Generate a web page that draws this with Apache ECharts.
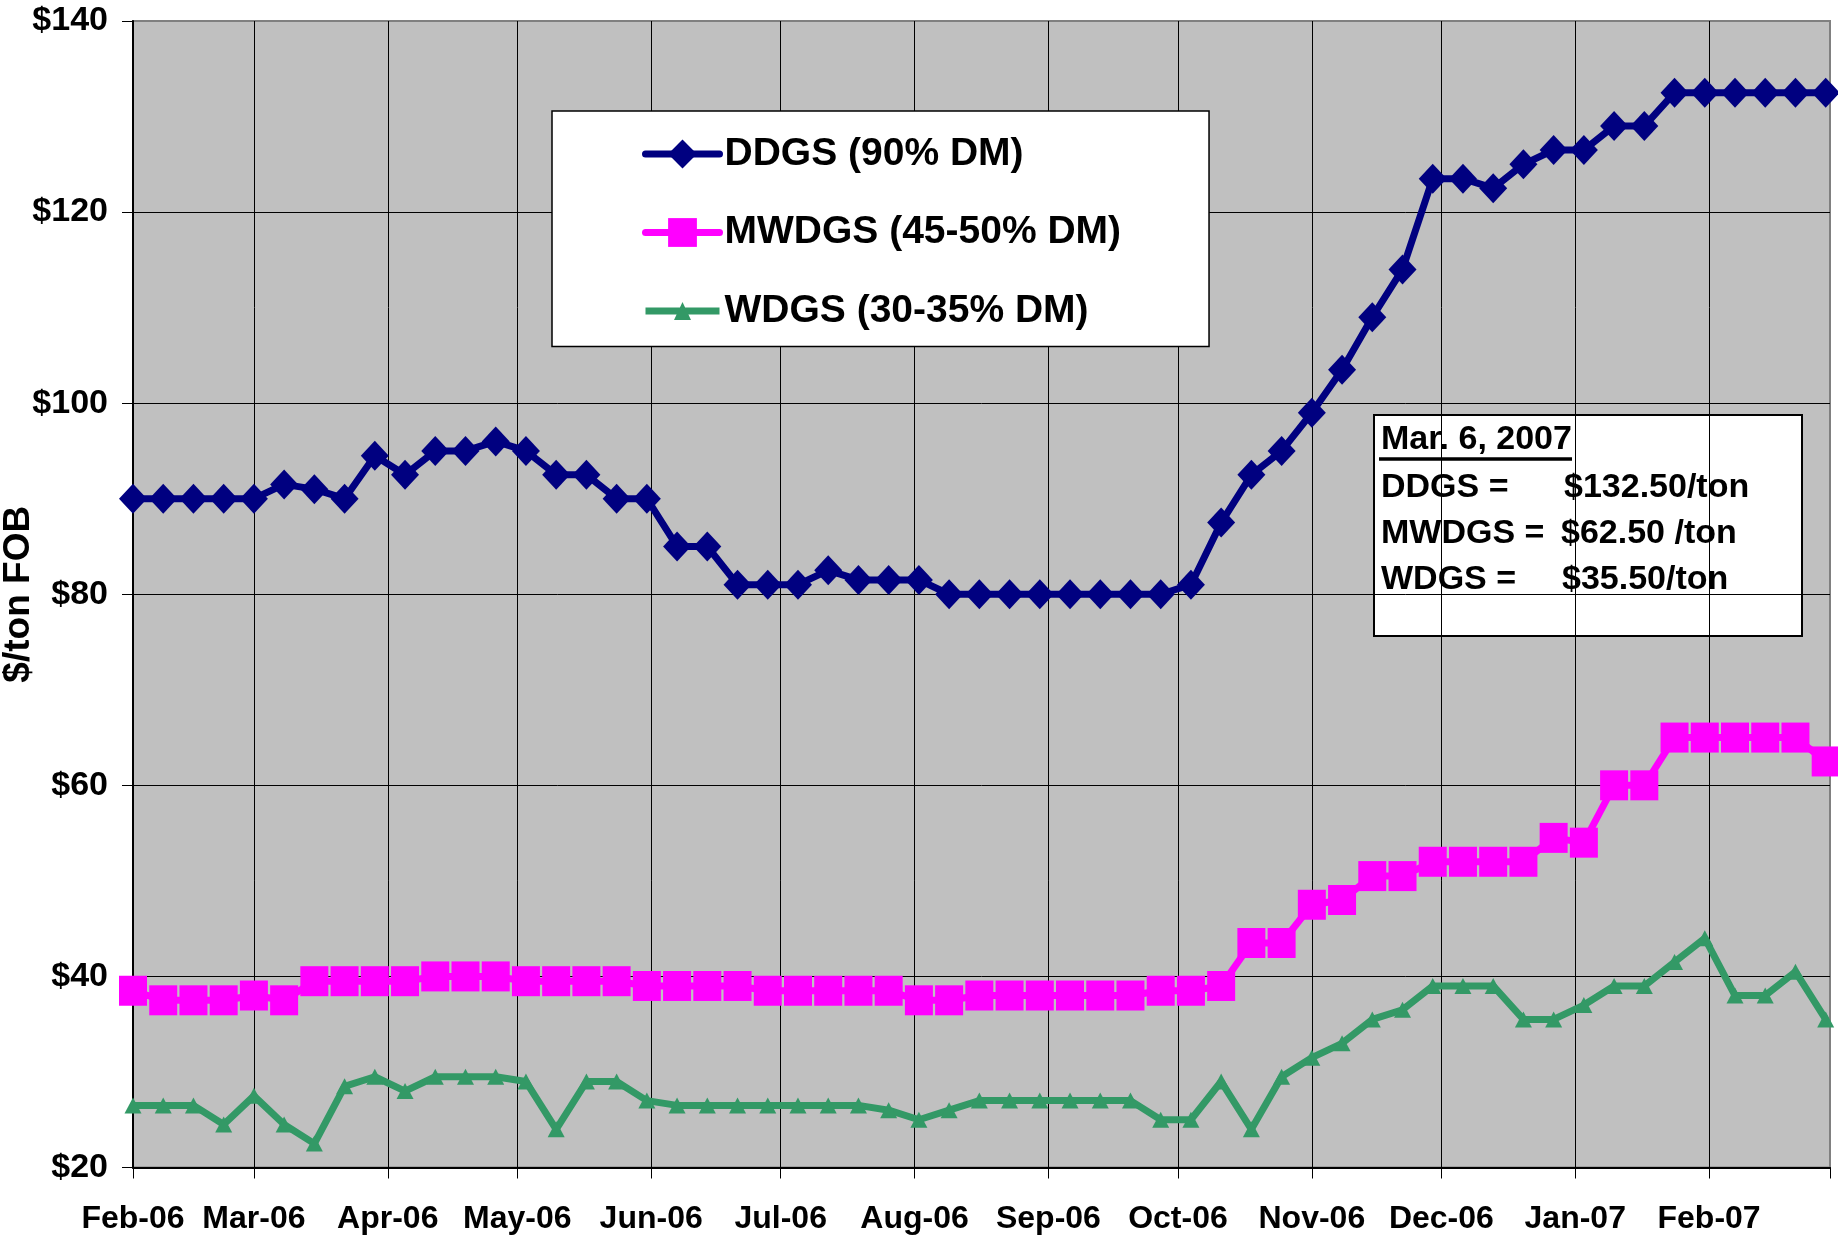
<!DOCTYPE html>
<html>
<head>
<meta charset="utf-8">
<script src="https://cdn.jsdelivr.net/npm/echarts@6/dist/echarts.min.js"></script>
<style>
html,body{margin:0;padding:0;background:#fff;}
#chart{width:1838px;height:1238px;}
</style>
</head>
<body>
<div id="chart"></div>
<script>
// ---- data ----
const weeks = [
  '2006-02-01','2006-02-08','2006-02-15','2006-02-22',
  '2006-03-01','2006-03-08','2006-03-15','2006-03-22','2006-03-29',
  '2006-04-05','2006-04-12','2006-04-19','2006-04-26',
  '2006-05-03','2006-05-10','2006-05-17','2006-05-24','2006-05-31',
  '2006-06-07','2006-06-14','2006-06-21','2006-06-28',
  '2006-07-05','2006-07-12','2006-07-19','2006-07-26',
  '2006-08-02','2006-08-09','2006-08-16','2006-08-23','2006-08-30',
  '2006-09-06','2006-09-13','2006-09-20','2006-09-27',
  '2006-10-04','2006-10-11','2006-10-18','2006-10-25',
  '2006-11-01','2006-11-08','2006-11-15','2006-11-22','2006-11-29',
  '2006-12-06','2006-12-13','2006-12-20','2006-12-27',
  '2007-01-03','2007-01-10','2007-01-17','2007-01-24','2007-01-31',
  '2007-02-07','2007-02-14','2007-02-21','2007-02-28'
];
const ddgs = [
  90, 90, 90, 90, 90, 91.5, 91, 90, 94.5, 92.5, 95, 95, 96, 95, 92.5, 92.5, 90, 90,
  85, 85, 81, 81, 81, 82.5, 81.5, 81.5, 81.5, 80, 80, 80, 80, 80, 80, 80, 80,
  81, 87.5, 92.5, 95, 99, 103.5, 109, 114, 123.5, 123.5, 122.5, 125, 126.5, 126.5,
  129, 129, 132.5, 132.5, 132.5, 132.5, 132.5, 132.5
];
const mwdgs = [
  38.5, 37.5, 37.5, 37.5, 38, 37.5, 39.5, 39.5, 39.5, 39.5, 40, 40, 40, 39.5, 39.5, 39.5, 39.5,
  39, 39, 39, 39, 38.5, 38.5, 38.5, 38.5, 38.5, 37.5, 37.5, 38, 38, 38, 38, 38, 38,
  38.5, 38.5, 39, 43.5, 43.5, 47.5, 48, 50.5, 50.5, 52, 52, 52, 52, 54.5, 54,
  60, 60, 65, 65, 65, 65, 65, 62.5
];
const wdgs = [
  26.5, 26.5, 26.5, 24.5, 27.5, 24.5, 22.5, 28.5, 29.5, 28, 29.5, 29.5, 29.5, 29, 24, 29, 29,
  27, 26.5, 26.5, 26.5, 26.5, 26.5, 26.5, 26.5, 26, 25, 26, 27, 27, 27, 27, 27, 27,
  25, 25, 29, 24, 29.5, 31.5, 33, 35.5, 36.5, 39, 39, 39, 35.5, 35.5, 37,
  39, 39, 41.5, 44, 38, 38, 40.5, 35.5
];
const monthTicks = [
  '2006-02-01','2006-03-01','2006-04-01','2006-05-01','2006-06-01','2006-07-01','2006-08-01',
  '2006-09-01','2006-10-01','2006-11-01','2006-12-01','2007-01-01','2007-02-01','2007-03-01'
];
const monthLabels = [
  'Feb-06','Mar-06','Apr-06','May-06','Jun-06','Jul-06','Aug-06',
  'Sep-06','Oct-06','Nov-06','Dec-06','Jan-07','Feb-07'
];
const seriesNames = ['DDGS (90% DM)', 'MWDGS (45-50% DM)', 'WDGS (30-35% DM)'];
const yAxisName = '$/ton FOB';
const noteTitle = 'Mar. 6, 2007';
const noteLeft = ['DDGS =', 'MWDGS =', 'WDGS ='];
const noteRight = ['$132.50/ton', '$62.50 /ton', '$35.50/ton'];

// ---- helpers ----
function toTime(s){ const p = s.split('-').map(Number); return Date.UTC(p[0], p[1]-1, p[2]); }
const pairs = arr => weeks.map((d, i) => [toTime(d), arr[i]]);
const tickVals = monthTicks.map(toTime);
const labelVals = tickVals.slice(0, monthLabels.length);
function monthLabel(v){
  let best = 0, bd = Infinity;
  labelVals.forEach((t, i) => { const d = Math.abs(t - v); if (d < bd) { bd = d; best = i; } });
  return monthLabels[best];
}
const FONT = "'Liberation Sans', Arial, Helvetica, sans-serif";
const triIcon = 'path://M0,0L0.1,0L0,0.1Z M74,36L73.9,36L74,35.9Z M0,14.5L74,14.5L74,21.5L0,21.5Z M37,9L45.5,27L28.5,27Z';

const chart = echarts.init(document.getElementById('chart'), null, {renderer: 'canvas'});
chart.setOption({
  animation: false,
  backgroundColor: '#ffffff',
  grid: {
    left: 133, right: 8, top: 21, bottom: 70.5,
    outerBoundsMode: 'none', containLabel: false,
    show: true, backgroundColor: '#C0C0C0', borderColor: '#808080', borderWidth: 2
  },
  xAxis: {
    type: 'value',
    min: tickVals[0], max: tickVals[tickVals.length - 1],
    axisLine: {show: true, lineStyle: {color: '#000', width: 2}},
    axisTick: {show: true, customValues: tickVals, length: 11, inside: false, lineStyle: {color: '#000', width: 1}},
    axisLabel: {
      show: true, customValues: labelVals, formatter: monthLabel, margin: 36,
      fontSize: 32, fontWeight: 'bold', color: '#000', fontFamily: FONT, hideOverlap: false
    },
    splitLine: {show: true, showMinLine: false, showMaxLine: false, lineStyle: {color: '#000', width: 1}}
  },
  yAxis: {
    type: 'value', min: 20, max: 140, interval: 20,
    name: yAxisName, nameLocation: 'middle', nameRotate: 90, nameGap: 96,
    nameMoveOverlap: false,
    nameTextStyle: {fontSize: 37, fontWeight: 'bold', color: '#000', fontFamily: FONT},
    axisLine: {show: true, lineStyle: {color: '#000', width: 2}},
    axisTick: {show: true, length: 11, inside: false, lineStyle: {color: '#000', width: 1}},
    axisLabel: {
      formatter: v => '$' + v, margin: 25,
      fontSize: 34, fontWeight: 'bold', color: '#000', fontFamily: FONT
    },
    splitLine: {show: true, showMinLine: false, showMaxLine: false, lineStyle: {color: '#000', width: 1}}
  },
  legend: {
    left: 552, top: 111, orient: 'vertical',
    backgroundColor: '#fff', borderColor: '#000', borderWidth: 1.5,
    padding: [23.5, 88, 16, 90],
    itemWidth: 74, itemHeight: 36, itemGap: 39.5,
    textStyle: {fontSize: 39, fontWeight: 'bold', color: '#000', fontFamily: FONT},
    lineStyle: {width: 7, cap: 'round'},
    selectedMode: false,
    data: [
      {name: seriesNames[0]},
      {name: seriesNames[1]},
      {name: seriesNames[2], icon: triIcon}
    ]
  },
  series: [
    {
      name: seriesNames[0], type: 'line', data: pairs(ddgs), z: 5,
      symbol: 'diamond', symbolSize: [28, 30], showSymbol: true, showAllSymbol: true,
      lineStyle: {color: '#000080', width: 7}, itemStyle: {color: '#000080'},
      emphasis: {disabled: true}, silent: true
    },
    {
      name: seriesNames[1], type: 'line', data: pairs(mwdgs), z: 4,
      symbol: 'rect', symbolSize: [28, 30], showSymbol: true, showAllSymbol: true,
      lineStyle: {color: '#FF00FF', width: 7}, itemStyle: {color: '#FF00FF'},
      emphasis: {disabled: true}, silent: true
    },
    {
      name: seriesNames[2], type: 'line', data: pairs(wdgs), z: 3,
      symbol: 'triangle', symbolSize: [17, 16], showSymbol: true, showAllSymbol: true,
      lineStyle: {color: '#339966', width: 7}, itemStyle: {color: '#339966'},
      emphasis: {disabled: true}, silent: true
    }
  ],
  graphic: {
    elements: [{
      type: 'group', left: 1373, top: 414, z: 100,
      children: [
        {type: 'rect', shape: {x: 0, y: 0, width: 428, height: 221}, style: {fill: '#fff', stroke: '#000', lineWidth: 2}},
        {type: 'text', x: 7, y: 25, style: {text: noteTitle, font: 'bold 34px ' + FONT, fill: '#000', verticalAlign: 'middle'}},
        {type: 'line', shape: {x1: 5, y1: 44, x2: 198, y2: 44}, style: {stroke: '#000', lineWidth: 3.5}},
        {type: 'text', x: 7, y: 73, style: {text: noteLeft[0], font: 'bold 34px ' + FONT, fill: '#000', verticalAlign: 'middle'}},
        {type: 'text', x: 190, y: 73, style: {text: noteRight[0], font: 'bold 34px ' + FONT, fill: '#000', verticalAlign: 'middle'}},
        {type: 'text', x: 7, y: 119, style: {text: noteLeft[1], font: 'bold 34px ' + FONT, fill: '#000', verticalAlign: 'middle'}},
        {type: 'text', x: 187, y: 119, style: {text: noteRight[1], font: 'bold 34px ' + FONT, fill: '#000', verticalAlign: 'middle'}},
        {type: 'text', x: 7, y: 165, style: {text: noteLeft[2], font: 'bold 34px ' + FONT, fill: '#000', verticalAlign: 'middle'}},
        {type: 'text', x: 188, y: 165, style: {text: noteRight[2], font: 'bold 34px ' + FONT, fill: '#000', verticalAlign: 'middle'}}
      ]
    }]
  }
});
</script>
</body>
</html>
